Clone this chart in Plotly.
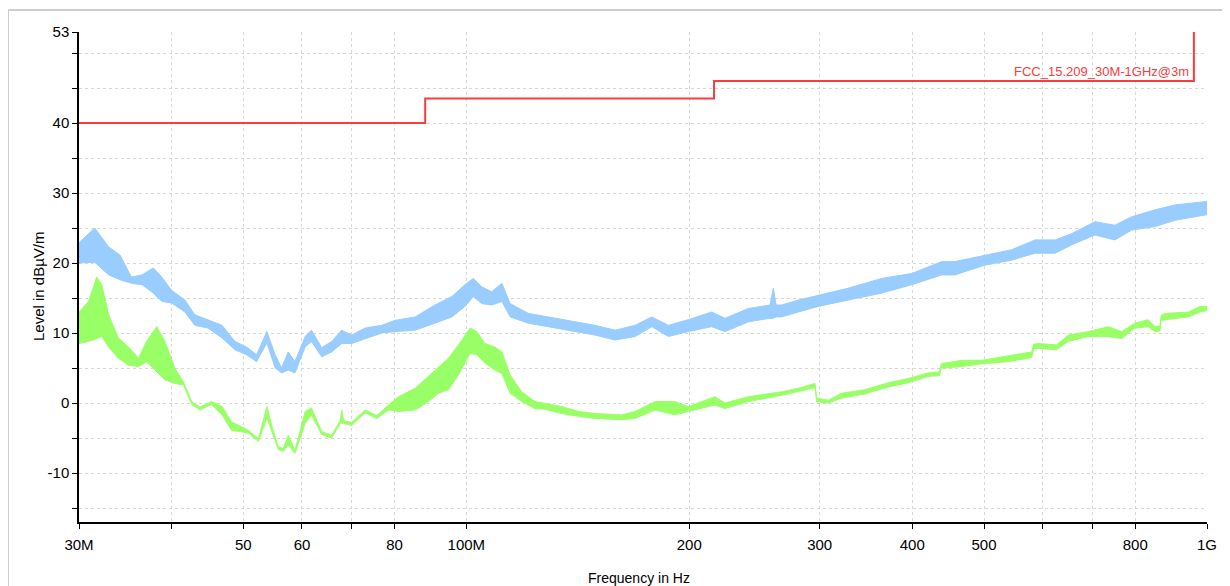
import plotly.graph_objects as go

# ---- data (MHz, dBuV/m) ----
blue_f = [30.0, 31.5, 32.9, 34.1, 35.3, 36.5, 37.8, 38.8, 40.0, 41.7, 43.0, 44.8, 46.8, 48.7,
          50.5, 52.1, 53.8, 55.2, 56.3, 57.5, 58.7, 60.6, 61.8, 63.8, 65.8, 67.9, 70.0, 73.0,
          76.9, 80.1, 85.3, 90.7, 95.6, 99.6, 102.2, 104.9, 108.2, 111.7, 114.6, 121.3, 129.0,
          138.8, 149.2, 158.8, 169.0, 178.0, 187.4, 199.4, 214.4, 223.5, 240.4, 257.0, 259.7,
          262.0, 266.6, 280.7, 298.7, 327.9, 363.8, 399.4, 438.4, 456.8, 501.6, 544.9, 586.0,
          623.6, 656.8, 706.0, 751.0, 791.0, 851.0, 905.0, 1000.0]
blue_hi = [22.9, 25.0, 22.3, 21.1, 18.0, 18.3, 19.3, 18.0, 16.1, 14.7, 12.6, 11.9, 11.1, 8.8,
           8.0, 6.9, 10.2, 6.9, 5.0, 7.3, 5.9, 9.5, 10.4, 7.9, 8.8, 10.4, 9.7, 10.7,
           11.1, 11.8, 12.3, 14.0, 15.2, 16.9, 17.8, 16.6, 15.9, 17.1, 14.2, 12.8, 12.3,
           11.6, 11.1, 10.4, 11.1, 12.3, 11.1, 11.9, 13.0, 12.1, 13.5, 14.0, 16.4,
           14.0, 14.0, 14.7, 15.4, 16.4, 17.8, 18.5, 20.2, 20.2, 21.1, 21.9, 23.3,
           23.3, 24.2, 25.9, 25.4, 26.6, 27.6, 28.3, 28.8]
blue_lo = [20.0, 20.1, 18.3, 17.6, 17.1, 16.9, 15.7, 14.5, 14.3, 13.0, 11.1, 10.7, 9.3, 7.6,
           6.9, 5.9, 8.6, 5.0, 4.3, 4.7, 4.3, 8.0, 8.8, 6.6, 7.3, 8.5, 8.5, 9.2,
           10.0, 10.2, 10.4, 11.4, 12.3, 13.8, 15.2, 14.2, 14.0, 14.5, 12.3, 11.4, 10.9,
           10.2, 9.7, 9.0, 9.5, 10.9, 9.5, 10.2, 10.9, 10.2, 11.6, 12.1, 12.1,
           12.3, 12.3, 13.0, 13.8, 14.7, 15.7, 16.9, 18.3, 18.3, 19.7, 20.4, 21.4,
           21.4, 22.6, 24.0, 23.3, 24.7, 25.2, 26.1, 26.9]

green_f = [30.0, 30.9, 31.7, 32.2, 32.9, 33.9, 35.0, 36.1, 37.0, 38.2, 39.2, 40.4, 41.5, 42.6,
           43.7, 45.3, 46.8, 48.2, 50.8, 52.4, 53.8, 54.6, 55.7, 56.6, 57.5, 58.7, 60.6, 61.8,
           63.8, 65.8, 67.6, 67.9, 68.3, 70.0, 73.0, 75.7, 78.5, 81.0, 85.3, 88.9, 91.7, 94.6,
           97.6, 101.2, 103.3, 106.0, 109.3, 111.7, 114.6, 118.8, 123.8, 127.8, 134.5, 141.7,
           149.2, 162.1, 169.0, 179.8, 191.3, 199.4, 216.6, 223.5, 240.4, 266.6, 280.7, 295.7,
           297.2, 308.1, 321.2, 345.3, 371.4, 395.2, 420.5, 435.0, 438.0, 443.0, 466.5, 496.5,
           539.0, 571.0, 580.0, 583.0, 593.0, 626.0, 650.0, 691.5, 735.6, 767.0, 799.0, 833.0,
           851.0, 864.0, 867.0, 877.7, 944.0, 979.0, 1000.0]
green_hi = [13.0, 14.5, 18.0, 16.9, 12.6, 9.3, 8.0, 6.4, 8.8, 10.9, 8.8, 5.0, 3.0, 0.2,
            -0.6, 0.2, -0.5, -2.7, -3.9, -5.1, -0.5, -3.2, -6.2, -6.5, -4.6, -6.8, -1.2, -0.7,
            -4.1, -4.6, -2.5, -1.0, -2.5, -2.8, -1.0, -1.8, -0.3, 0.9, 2.1, 3.8, 5.0, 6.4,
            8.3, 10.7, 10.2, 8.5, 8.0, 7.3, 4.0, 1.6, 0.2, -0.1, -0.5, -1.2,
            -1.5, -1.7, -1.2, 0.2, 0.2, -0.5, 0.9, 0.0, 0.9, 1.6, 2.1, 2.8,
            0.7, 0.4, 1.4, 1.9, 2.9, 3.5, 4.3, 4.4, 5.6, 5.7, 6.1, 6.1,
            6.7, 7.2, 7.3, 8.4, 8.5, 8.3, 9.7, 10.2, 10.9, 10.2, 11.4, 11.9,
            10.9, 11.0, 12.5, 12.8, 13.0, 13.8, 13.8]
green_lo = [8.5, 8.8, 9.2, 9.5, 8.0, 6.4, 5.4, 5.2, 5.9, 4.5, 3.3, 2.8, 2.6, -0.2,
            -1.0, -0.2, -1.7, -3.9, -4.3, -5.5, -2.1, -4.0, -6.6, -6.9, -6.0, -7.2, -2.9, -1.7,
            -4.5, -5.0, -2.9, -2.9, -2.9, -3.2, -1.4, -2.2, -1.0, -1.2, -1.0, 0.2, 1.4, 1.9,
            4.0, 7.1, 6.9, 5.7, 4.7, 4.2, 1.4, 0.2, -0.8, -0.9, -1.5, -1.9,
            -2.2, -2.4, -2.2, -1.0, -1.7, -1.2, -0.3, -0.8, 0.2, 1.1, 1.6, 2.2,
            0.2, 0.0, 0.7, 1.3, 2.3, 2.9, 3.8, 3.9, 5.0, 5.0, 5.2, 5.6,
            5.9, 6.4, 6.5, 7.7, 7.8, 7.6, 8.8, 9.5, 9.5, 9.2, 10.7, 10.9,
            10.2, 10.3, 11.8, 11.9, 12.3, 13.0, 13.2]

limit_f = [30.0, 88.0, 88.0, 216.0, 216.0, 960.0, 960.0, 1000.0]
limit_v = [40.0, 40.0, 43.5, 43.5, 46.0, 46.0, 54.0, 54.0]
limit_name = "FCC_15.209_30M-1GHz@3m"

x_tick_mhz = [30, 40, 50, 60, 70, 80, 100, 200, 300, 400, 500, 600, 700, 800, 1000]
x_tick_text = ["30M", "", "50", "60", "", "80", "100M", "200", "300", "400", "500", "", "", "800", "1G"]
y_tick_vals = [-15, -10, -5, 0, 5, 10, 15, 20, 25, 30, 35, 40, 45, 50, 53]
y_tick_text = ["", "-10", "", "0", "", "10", "", "20", "", "30", "", "40", "", "", "53"]

BLUE = "rgb(153,204,255)"
GREEN = "rgb(153,255,102)"
RED = "rgb(250,60,60)"
FONT = "Liberation Sans Narrow, Arial Narrow, Liberation Sans, Arial, sans-serif"

# page pixel geometry of the plot area (the page body adds an 8px offset)
PL, PR, PT, PB = 79, 1207, 32, 522
PW, PH = PR - PL, PB - PT


def hz(lst):
    return [v * 1e6 for v in lst]


def px(xp):
    return (xp - PL) / PW


def py(yp):
    return (PB - yp) / PH


fig = go.Figure()


def band(f, lo, hi, color, name):
    fig.add_trace(go.Scatter(x=hz(f), y=lo, mode="lines", line=dict(color=color, width=1),
                             showlegend=False, hoverinfo="skip"))
    fig.add_trace(go.Scatter(x=hz(f), y=hi, mode="lines", line=dict(color=color, width=1),
                             fill="tonexty", fillcolor=color, name=name, showlegend=False))


band(blue_f, blue_lo, blue_hi, BLUE, "Peak")
band(green_f, green_lo, green_hi, GREEN, "Average")

fig.add_trace(go.Scatter(x=hz(limit_f), y=limit_v, mode="lines",
                         line=dict(color=RED, width=2), showlegend=False, name=limit_name))

fig.add_annotation(x=px(1191), y=46.0, xref="paper", yref="y", text=limit_name,
                   showarrow=False, font=dict(family=FONT, size=13, color=RED),
                   xanchor="right", yanchor="bottom", yshift=0)

fig.add_annotation(x=px(38), y=py(286), xref="paper", yref="paper",
                   text="Level in dBµV/m", textangle=-90, showarrow=False,
                   xanchor="center", yanchor="middle",
                   font=dict(family=FONT, size=15, color="black"))
fig.add_annotation(x=px(639), y=py(578), xref="paper", yref="paper",
                   text="Frequency in Hz", showarrow=False,
                   xanchor="center", yanchor="middle",
                   font=dict(family=FONT, size=14, color="black"))

# outer frame
fig.add_shape(type="rect", xref="paper", yref="paper",
              x0=px(8), x1=px(1225), y0=py(640), y1=py(10),
              line=dict(color="rgb(205,205,205)", width=2), layer="below")

fig.update_xaxes(type="log", range=[7.4771213, 9.0], tickvals=hz(x_tick_mhz), ticktext=x_tick_text,
                 showline=True, linecolor="black", linewidth=1.5, ticks="outside", ticklen=5,
                 tickcolor="black", showgrid=True, gridcolor="rgb(215,215,215)", griddash="dot",
                 gridwidth=1, zeroline=False, ticklabelstandoff=3,
                 tickfont=dict(family=FONT, size=15, color="black"))
fig.update_yaxes(range=[-17, 53], tickvals=y_tick_vals, ticktext=y_tick_text,
                 showline=True, linecolor="black", linewidth=1.5, ticks="outside", ticklen=5,
                 tickcolor="black", showgrid=True, gridcolor="rgb(215,215,215)", griddash="dot",
                 gridwidth=1, zeroline=False, ticklabelstandoff=0,
                 tickfont=dict(family=FONT, size=15, color="black"))

fig.update_layout(width=1230, height=586, autosize=False,
                  margin=dict(l=PL - 8, r=1230 - (PR - 8), t=PT - 8, b=586 - (PB - 8)),
                  paper_bgcolor="white", plot_bgcolor="white", showlegend=False,
                  font=dict(family=FONT))

fig.write_html("out.html")
